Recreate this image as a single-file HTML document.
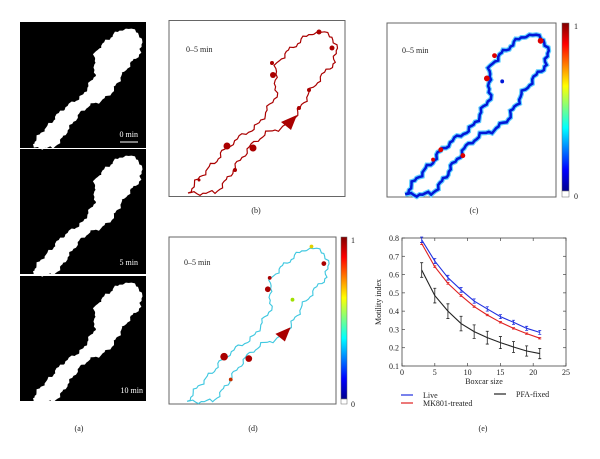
<!DOCTYPE html>
<html><head><meta charset="utf-8"><style>
body{margin:0;background:#fff;}
svg text{font-family:"Liberation Serif",serif;fill:#222;}
</style></head><body>
<svg width="600" height="454" viewBox="0 0 600 454" xmlns="http://www.w3.org/2000/svg">
<defs>
<path id="cell" d=""/>
<path id="cellw" d=""/>
<linearGradient id="jet" x1="0" y1="1" x2="0" y2="0">
<stop offset="0" stop-color="#00008f"/><stop offset="0.125" stop-color="#0000ff"/><stop offset="0.375" stop-color="#00ffff"/><stop offset="0.625" stop-color="#ffff00"/><stop offset="0.875" stop-color="#ff0000"/><stop offset="1" stop-color="#800000"/>
</linearGradient>
</defs>

<g>
<rect x="20" y="22" width="126" height="126" fill="#000"/>
<rect x="20" y="149" width="126" height="125" fill="#000"/>
<rect x="20" y="276" width="126" height="125" fill="#000"/>
<use href="#cellw" transform="translate(20,22) scale(0.716)" fill="#fff" stroke="#fff" stroke-width="5"/>
<use href="#cellw" transform="translate(20,149) scale(0.716)" fill="#fff" stroke="#fff" stroke-width="5"/>
<use href="#cellw" transform="translate(20,276) scale(0.716)" fill="#fff" stroke="#fff" stroke-width="5"/>
<text x="138" y="137" font-size="8" style="fill:#fff" text-anchor="end">0 min</text>
<line x1="120" y1="142" x2="138" y2="142" stroke="#fff" stroke-width="1"/>
<text x="138" y="265" font-size="8" style="fill:#fff" text-anchor="end">5 min</text>
<text x="143" y="393" font-size="8" style="fill:#fff" text-anchor="end">10 min</text>
<text x="79" y="431" font-size="8" text-anchor="middle">(a)</text>
</g>

<g>
<rect x="169" y="20.5" width="176" height="176" fill="#fff" stroke="#666" stroke-width="1"/>
<g transform="translate(169,20)">
<use href="#cellw" fill="none" stroke="#a00" stroke-width="1.2"/>
<circle cx="84" cy="128" r="3.5" fill="#a00"/><circle cx="58" cy="126" r="3.5" fill="#a00"/>
<path d="M112,102 L128,95 L122,110 Z" fill="#a00"/><circle cx="104" cy="55" r="3" fill="#a00"/>
<circle cx="163" cy="28" r="2.5" fill="#a00"/><circle cx="150" cy="12" r="2.5" fill="#a00"/>
<circle cx="103" cy="43" r="2" fill="#a00"/><circle cx="66" cy="150" r="2" fill="#a00"/>
<circle cx="140" cy="70" r="2" fill="#a00"/><circle cx="130" cy="88" r="2" fill="#a00"/>
<circle cx="30" cy="160" r="1.5" fill="#a00"/>
</g>
<text x="186" y="52" font-size="8">0–5 min</text>
<text x="256" y="213" font-size="8" text-anchor="middle">(b)</text>
</g>

<g>
<rect x="387" y="23" width="169" height="174" fill="#fff" stroke="#666" stroke-width="1"/>
<g transform="translate(387,23) scale(0.96,0.99)">
<use href="#cellw" fill="none" stroke="#60d0ff" stroke-width="5"/>
<use href="#cellw" fill="none" stroke="#0018d8" stroke-width="2.6"/>
<circle cx="160" cy="18" r="3" fill="#d00"/><circle cx="104" cy="56" r="3" fill="#d00"/>
<circle cx="112" cy="33" r="2.5" fill="#d00"/><circle cx="56" cy="128" r="2.5" fill="#d00"/>
<circle cx="79" cy="134" r="2.5" fill="#d00"/><circle cx="48" cy="138" r="2" fill="#d00"/>
<circle cx="120" cy="59" r="2" fill="#0018d8"/>
</g>
<rect x="562" y="23" width="7" height="168" fill="url(#jet)" stroke="#666" stroke-width="0.5"/>
<rect x="562" y="191" width="7" height="6" fill="#fff" stroke="#666" stroke-width="0.5"/>
<text x="574" y="29" font-size="8">1</text><text x="574" y="199" font-size="8">0</text>
<text x="402" y="53" font-size="8">0–5 min</text>
<text x="474" y="213" font-size="8" text-anchor="middle">(c)</text>
</g>

<g>
<rect x="169" y="237" width="167" height="167" fill="#fff" stroke="#666" stroke-width="1"/>
<g transform="translate(169,237) scale(0.95)">
<use href="#cellw" fill="none" stroke="#40c8e0" stroke-width="1.2"/>
<circle cx="84" cy="128" r="3.5" fill="#a00"/><circle cx="58" cy="126" r="4" fill="#a00"/>
<path d="M112,102 L128,95 L122,110 Z" fill="#a00"/><circle cx="104" cy="55" r="3" fill="#a00"/>
<circle cx="163" cy="28" r="2.5" fill="#a00"/><circle cx="106" cy="43" r="2" fill="#a00"/>
<circle cx="150" cy="10" r="2" fill="#e0d000"/><circle cx="130" cy="66" r="2" fill="#a0e000"/>
<circle cx="65" cy="150" r="2" fill="#c03000"/>
</g>
<rect x="341" y="237" width="6" height="162" fill="url(#jet)" stroke="#666" stroke-width="0.5"/>
<rect x="341" y="399" width="6" height="5" fill="#fff" stroke="#666" stroke-width="0.5"/>
<text x="351" y="243" font-size="8">1</text><text x="351" y="407" font-size="8">0</text>
<text x="184" y="265" font-size="8">0–5 min</text>
<text x="253" y="431" font-size="8" text-anchor="middle">(d)</text>
</g>

<g id="chart"></g>
<text x="483" y="431" font-size="8" text-anchor="middle">(e)</text>
</svg>
<script>
// cell outline (shape geometry, not chart data)
(function(){
const base=[[19,173],[31,157],[45,143],[58,127],[71,117],[82,110],[91,103],[98,90],[103,82],[108,73],[106,57],[108,43],[116,34],[124,27],[135,18],[145,12],[155,13],[164,17],[167,28],[166,42],[158,50],[150,60],[144,67],[136,80],[126,97],[114,107],[98,113],[88,120],[81,127],[71,140],[64,150],[58,160],[46,173]];
document.getElementById('cell').setAttribute('d','M'+base.map(p=>p.join(',')).join(' L')+' Z');
const pts=[];
for(let i=0;i<base.length;i++){
  const a=base[i],b=base[(i+1)%base.length];
  const dx=b[0]-a[0],dy=b[1]-a[1],L=Math.hypot(dx,dy)||1;
  const n=Math.max(2,Math.round(L/3));
  for(let k=0;k<n;k++){
    const t=k/n, s=pts.length;
    const off=1.6*Math.sin(s*0.9)+1.0*Math.sin(s*2.3);
    pts.push([(a[0]+dx*t-dy/L*off).toFixed(1),(a[1]+dy*t+dx/L*off).toFixed(1)]);
  }
}
document.getElementById('cellw').setAttribute('d','M'+pts.map(p=>p.join(',')).join(' L')+' Z');
})();

const boxcarSizes=[3,5,7,9,11,13,15,17,19,21];
const liveValues=[0.79,0.674,0.583,0.516,0.455,0.412,0.37,0.339,0.306,0.284];
const liveErr=[0.015,0.014,0.013,0.013,0.012,0.012,0.011,0.011,0.011,0.011];
const mkValues=[0.77,0.643,0.552,0.485,0.425,0.379,0.339,0.306,0.277,0.252];
const mkErr=[0.006,0.005,0.005,0.005,0.004,0.004,0.004,0.004,0.004,0.004];
const pfaValues=[0.625,0.485,0.40,0.332,0.288,0.255,0.228,0.204,0.182,0.168];
const pfaErr=[0.04,0.04,0.04,0.04,0.037,0.035,0.033,0.03,0.028,0.028];
const xTicks=[0,5,10,15,20,25];
const yTicks=[0.1,0.2,0.3,0.4,0.5,0.6,0.7,0.8];
const NS='http://www.w3.org/2000/svg';
const X0=402,X1=566,Y0=366,Y1=238;
const xs=v=>X0+(v-0)/(25-0)*(X1-X0);
const ys=v=>Y0-(v-0.1)/(0.8-0.1)*(Y0-Y1);
const g=document.getElementById('chart');
function mk(t,a){const e=document.createElementNS(NS,t);for(const k in a)e.setAttribute(k,a[k]);g.appendChild(e);return e;}
const frame=mk('rect',{x:X0,y:Y1,width:X1-X0,height:Y0-Y1,fill:'none',stroke:'#444','stroke-width':0.8});


xTicks.forEach(t=>{
  mk('line',{x1:xs(t),x2:xs(t),y1:Y0,y2:Y0-3,stroke:'#444','stroke-width':0.7});
  mk('line',{x1:xs(t),x2:xs(t),y1:Y1,y2:Y1+3,stroke:'#444','stroke-width':0.7});
  const tx=mk('text',{x:xs(t),y:Y0+9,'font-size':8,'text-anchor':'middle'});tx.textContent=t;
  
  
});
yTicks.forEach(t=>{
  mk('line',{x1:X0,x2:X0+3,y1:ys(t),y2:ys(t),stroke:'#444','stroke-width':0.7});
  mk('line',{x1:X1,x2:X1-3,y1:ys(t),y2:ys(t),stroke:'#444','stroke-width':0.7});
  const tx=mk('text',{x:X0-3,y:ys(t)+3,'font-size':8,'text-anchor':'end'});tx.textContent=t.toFixed(1);
  
  
});
function series(vals,err,color,name){
  const pts=vals.map((v,i)=>xs(boxcarSizes[i])+','+ys(v)).join(' ');
  const pl=mk('polyline',{points:pts,fill:'none',stroke:color,'stroke-width':1.1});
  
  
  vals.forEach((v,i)=>{
    const x=xs(boxcarSizes[i]);
    const eb=mk('path',{d:`M${x},${ys(v-err[i])}V${ys(v+err[i])}M${x-1.5},${ys(v-err[i])}h3M${x-1.5},${ys(v+err[i])}h3`,stroke:color,'stroke-width':0.8,fill:'none'});
    
    
  });
}
series(pfaValues,pfaErr,'#222','pfa');
series(mkValues,mkErr,'#e02020','mk801');
series(liveValues,liveErr,'#2030e0','live');
const xl=mk('text',{x:484,y:384,'font-size':8,'text-anchor':'middle'});xl.textContent='Boxcar size';


const yl=mk('text',{x:0,y:0,'font-size':8,'text-anchor':'middle',transform:`translate(381,302) rotate(-90)`});yl.textContent='Motility index';


const legend=[['Live','#2030e0',401,398],['MK801-treated','#e02020',401,406],['PFA-fixed','#222',494,397]];
legend.forEach(l=>{
  mk('line',{x1:l[2],x2:l[2]+12,y1:l[3]-3,y2:l[3]-3,stroke:l[1],'stroke-width':1.2});
  const t=mk('text',{x:l[2]+22,y:l[3],'font-size':8});t.textContent=l[0];
  
  
});
</script>
</body></html>
